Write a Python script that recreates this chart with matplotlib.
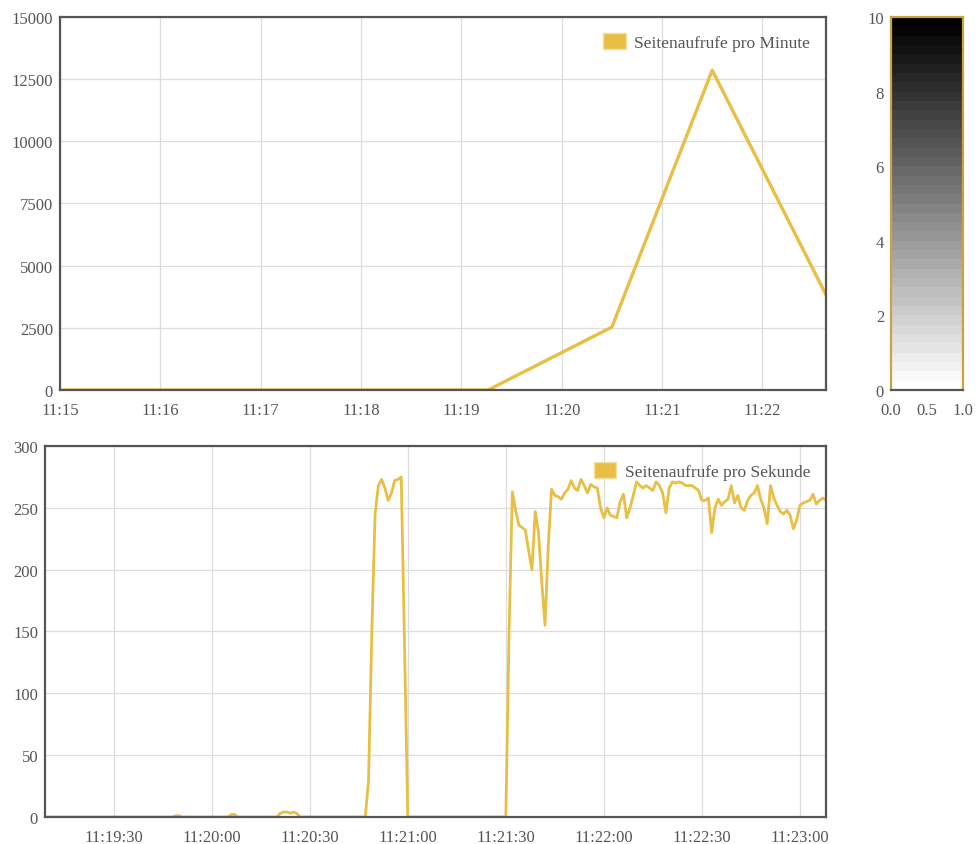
import numpy as np
import pandas as pd
import matplotlib
matplotlib.use("Agg")
import matplotlib.pyplot as plt
import matplotlib.dates as mdates
from matplotlib.patches import Patch

# per-minute page views (top chart)
minute_times = ["11:15:00", "11:16:00", "11:17:00", "11:18:00", "11:19:00",
                "11:19:16", "11:20:30", "11:21:30", "11:22:38"]
minute_views = [0, 0, 0, 0, 0, 0, 2530, 12860, 3830]

# per-second page views (bottom chart), seconds after 11:19:00
sec_offsets = [9, 48, 49, 50, 51, 65, 66, 67, 68,
               80, 81, 82, 83, 84, 85, 86, 87,
               107, 108, 109, 110, 111, 112, 113, 114, 115, 116, 117, 118, 119, 120,
               150, 151, 152, 153, 154, 155, 156, 157, 158, 159, 160, 161, 162,
               163, 164, 165, 166, 167, 168, 169, 170, 171, 172, 173, 174, 175,
               176, 177, 178, 179, 180, 181, 182, 183, 184, 185, 186, 187, 188,
               189, 190, 191, 192, 193, 194, 195, 196, 197, 198, 199, 200, 201,
               202, 203, 204, 205, 206, 207, 208, 209, 210, 211, 212, 213, 214,
               215, 216, 217, 218, 219, 220, 221, 222, 223, 224, 225, 226, 227,
               228, 229, 230, 231, 232, 233, 234, 235, 236, 237, 238, 239, 240,
               241, 242, 243, 244, 245, 246, 247, 248]
sec_views = [0, 0, 1, 1, 0, 0, 2, 2, 0,
             0, 3, 4, 4, 3, 4, 3, 0,
             0, 30, 150, 245, 268, 273, 266, 256, 262, 272, 273, 275, 140, 0,
             0, 150, 263, 248, 236, 234, 232, 215, 200, 247, 230, 190, 155,
             220, 265, 260, 259, 257, 262, 265, 272, 266, 264, 273, 268, 262,
             269, 267, 266, 250, 242, 250, 244, 243, 242, 255, 261, 242, 250,
             260, 271, 268, 266, 268, 266, 264, 271, 268, 262, 246, 266, 271,
             270, 271, 270, 268, 268, 268, 266, 264, 256, 256, 258, 230, 250,
             257, 252, 255, 257, 268, 254, 260, 250, 248, 256, 260, 262, 268,
             257, 250, 237, 268, 258, 252, 247, 245, 248, 244, 233, 240, 252,
             254, 255, 256, 261, 253, 256, 258, 256]

colorbar_range = [0, 10]

line_color = "#E8BE45"
spine_color = "#555555"
text_color = "#555555"
grid_color = "#DDDDDD"

plt.rcParams["font.family"] = ["Liberation Serif", "DejaVu Serif"]
plt.rcParams["font.size"] = 12

day = "2013-06-01 "
t_min = pd.to_datetime([day + t for t in minute_times])
base = pd.Timestamp(day + "11:19:00")
t_sec = base + pd.to_timedelta(sec_offsets, unit="s")

fig = plt.figure(figsize=(9.77, 8.45), dpi=100)
ax1 = fig.add_axes([0.0614, 0.5373, 0.784, 0.4414])
cax = fig.add_axes([0.912, 0.5373, 0.0737, 0.4414])
ax2 = fig.add_axes([0.0461, 0.0320, 0.7994, 0.4390])


def style(ax):
    for s in ax.spines.values():
        s.set_color(spine_color)
        s.set_linewidth(1.6)
    ax.tick_params(length=0, colors=text_color, labelsize=12)
    ax.tick_params(axis="y", pad=5)
    ax.tick_params(axis="x", pad=9)
    ax.grid(True, color=grid_color, linewidth=0.9)
    ax.set_axisbelow(True)


def add_legend(ax, label):
    ax.legend(handles=[Patch(facecolor=line_color, edgecolor="#F3DFA0")],
              labels=[label], loc="upper right", frameon=False,
              handlelength=1.3, handleheight=1.1, handletextpad=0.5,
              labelcolor=text_color, fontsize=12.5, borderaxespad=0.5)


# top chart
ax1.plot(t_min, minute_views, color=line_color, linewidth=2.4)
ax1.set_xlim(pd.Timestamp(day + "11:15:00"), pd.Timestamp(day + "11:22:38"))
ax1.set_ylim(0, 15000)
ax1.set_yticks(np.arange(0, 15001, 2500))
ax1.xaxis.set_major_locator(mdates.MinuteLocator())
ax1.xaxis.set_major_formatter(mdates.DateFormatter("%H:%M"))
style(ax1)
add_legend(ax1, "Seitenaufrufe pro Minute")

# colour bar
grad = np.linspace(colorbar_range[0], colorbar_range[1], 40).reshape(-1, 1)
cax.imshow(grad, cmap="gray_r", aspect="auto", origin="lower",
           extent=[0, 1, colorbar_range[0], colorbar_range[1]])
cax.set_xticks([0.0, 0.5, 1.0])
cax.set_xticklabels(["0.0", "0.5", "1.0"])
cax.set_yticks(np.arange(0, 11, 2))
for s in cax.spines.values():
    s.set_color("#C9A43C")
    s.set_linewidth(1.6)
cax.spines["bottom"].set_color(spine_color)
cax.tick_params(length=0, colors=text_color, labelsize=12)
cax.tick_params(axis="y", pad=5)
cax.tick_params(axis="x", pad=9)

# bottom chart
ax2.plot(t_sec, sec_views, color=line_color, linewidth=2.0)
ax2.set_xlim(base + pd.Timedelta(seconds=9), base + pd.Timedelta(seconds=248))
ax2.set_ylim(0, 300)
ax2.set_yticks(np.arange(0, 301, 50))
ax2.xaxis.set_major_locator(mdates.SecondLocator(bysecond=[0, 30]))
ax2.xaxis.set_major_formatter(mdates.DateFormatter("%H:%M:%S"))
style(ax2)
add_legend(ax2, "Seitenaufrufe pro Sekunde")

fig.savefig("out.png", dpi=100)
